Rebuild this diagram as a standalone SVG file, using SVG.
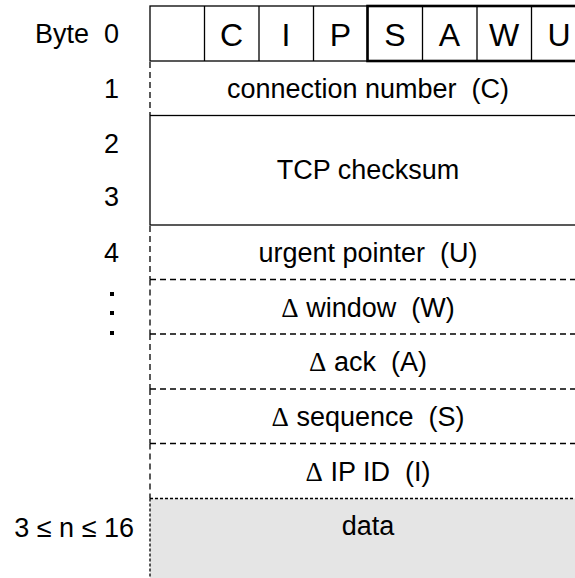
<svg xmlns="http://www.w3.org/2000/svg" width="575" height="578" viewBox="0 0 575 578">
<style>
text{font-family:"Liberation Sans",Arial,sans-serif;fill:#000}
.lbl{font-size:27px;text-anchor:end}
.fld{font-size:27px;text-anchor:middle}
.flag{font-size:32px;text-anchor:middle}
.d{font-family:"Liberation Serif","Times New Roman",serif}
.thin{fill:none;stroke:#000;stroke-width:1.3}
.thick{fill:none;stroke:#000;stroke-width:2.6}
.dash{fill:none;stroke:#000;stroke-width:1.3;stroke-dasharray:6 4}
.dot{fill:none;stroke:#000;stroke-width:1.3;stroke-dasharray:3 2}
</style>
<rect width="575" height="578" fill="#fff"/>
<g id="row-labels">
<text class="lbl" x="119" y="43" xml:space="preserve">Byte  0</text>
<text class="lbl" x="119" y="98">1</text>
<text class="lbl" x="119" y="152.5">2</text>
<text class="lbl" x="119" y="206">3</text>
<text class="lbl" x="119" y="262">4</text>
<rect x="110" y="292" width="4" height="4"/>
<rect x="110" y="311" width="4" height="4"/>
<rect x="110" y="331" width="4" height="4"/>
<text class="lbl" x="134" y="536.5" xml:space="preserve">3 ≤ n ≤ 16</text>
</g>
<g id="byte0">
<rect class="thin" x="150" y="6" width="217.5" height="55"/>
<line class="thin" x1="204.5" y1="6" x2="204.5" y2="61"/>
<line class="thin" x1="259" y1="6" x2="259" y2="61"/>
<line class="thin" x1="313.5" y1="6" x2="313.5" y2="61"/>
<line class="thin" x1="422.5" y1="6" x2="422.5" y2="61"/>
<line class="thin" x1="477" y1="6" x2="477" y2="61"/>
<line class="thin" x1="531.5" y1="6" x2="531.5" y2="61"/>
<rect class="thick" x="367.5" y="6" width="222" height="55"/>
<text class="flag" x="231.5" y="46">C</text>
<text class="flag" x="286" y="46">I</text>
<text class="flag" x="340.5" y="46">P</text>
<text class="flag" x="395" y="46">S</text>
<text class="flag" x="449.5" y="46">A</text>
<text class="flag" x="504" y="46">W</text>
<text class="flag" x="559" y="46">U</text>
</g>
<g id="connection">
<line class="dash" x1="150" y1="62" x2="150" y2="115"/>
<text class="fld" x="368" y="98" xml:space="preserve">connection number  (C)</text>
</g>
<g id="checksum">
<rect class="thin" x="150" y="115.5" width="440" height="109.5"/>
<text class="fld" x="368" y="179">TCP checksum</text>
</g>
<g id="urgent">
<line class="dash" x1="150" y1="226" x2="150" y2="279.5"/>
<line class="dash" x1="150" y1="279.5" x2="575" y2="279.5"/>
<text class="fld" x="368" y="261.5" xml:space="preserve">urgent pointer  (U)</text>
</g>
<g id="window">
<line class="dash" x1="150" y1="279.5" x2="150" y2="334"/>
<line class="dash" x1="150" y1="334" x2="575" y2="334"/>
<text class="fld" x="368" y="316.5" xml:space="preserve"><tspan class="d">Δ</tspan> window  (W)</text>
</g>
<g id="ack">
<line class="dash" x1="150" y1="334" x2="150" y2="389"/>
<line class="dash" x1="150" y1="389" x2="575" y2="389"/>
<text class="fld" x="368" y="371" xml:space="preserve"><tspan class="d">Δ</tspan> ack  (A)</text>
</g>
<g id="sequence">
<line class="dash" x1="150" y1="389" x2="150" y2="443.5"/>
<line class="dash" x1="150" y1="443.5" x2="575" y2="443.5"/>
<text class="fld" x="368" y="426" xml:space="preserve"><tspan class="d">Δ</tspan> sequence  (S)</text>
</g>
<g id="ipid">
<line class="dash" x1="150" y1="443.5" x2="150" y2="498.5"/>
<text class="fld" x="368" y="480.5" xml:space="preserve"><tspan class="d">Δ</tspan> IP ID  (I)</text>
</g>
<g id="data">
<rect x="150" y="498.5" width="425" height="80" fill="#e5e5e5"/>
<line class="dot" x1="150" y1="498.5" x2="575" y2="498.5"/>
<line class="dot" x1="150" y1="498.5" x2="150" y2="578"/>
<text class="fld" x="368" y="535">data</text>
</g>
<g id="connectors"></g>
</svg>
